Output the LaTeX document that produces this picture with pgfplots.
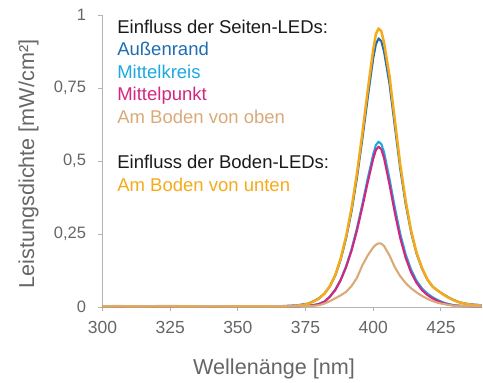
\documentclass[border=0pt]{standalone}
\usepackage{fontspec}
\setmainfont{Liberation Sans}
\usepackage{pgfplots}
\pgfplotsset{compat=1.18}
\definecolor{axisgray}{HTML}{B4B4B4}
\definecolor{labelgray}{HTML}{666666}
\definecolor{cAussen}{HTML}{1F6CB3}
\definecolor{cKreis}{HTML}{1BA9DF}
\definecolor{cPunkt}{HTML}{D4257F}
\definecolor{cOben}{HTML}{D9AA78}
\definecolor{cUnten}{HTML}{F5AA1A}
\definecolor{textdark}{HTML}{1A1A1A}
\newcommand{\legfont}{\fontsize{18.5bp}{22.5bp}\selectfont}
\begin{document}
\begin{tikzpicture}
\begin{axis}[
  width=379bp, height=292bp, scale only axis,
  xmin=300, xmax=440, ymin=0, ymax=1,
  axis x line=bottom, axis y line=left,
  axis line style={-, draw=axisgray, line width=0.9bp},
  xtick={300,325,350,375,400,425}, ytick={0,0.25,0.5,0.75,1},
  tick align=outside, major tick length=4bp,
  tick style={draw=axisgray, line width=0.9bp},
  /pgf/number format/use comma,
  /pgf/number format/1000 sep={},
  /pgf/number format/assume math mode=true,
  x tick label style={font=\fontsize{17.5bp}{20bp}\selectfont, text=labelgray, yshift=-7bp},
  y tick label style={font=\fontsize{16.5bp}{20bp}\selectfont, text=labelgray, xshift=-9bp},
  xlabel={Wellenänge [nm]},
  ylabel={Leistungsdichte [mW/cm²]},
  label style={font=\fontsize{21.6bp}{24bp}\selectfont, text=labelgray},
  x label style={at={(axis description cs:0.4526,-0.212)}, anchor=center},
  y label style={at={(axis description cs:-0.195,0.49)}, anchor=center},
  clip=false,
  every axis plot/.append style={line width=2.1bp, line join=round},
]
\coordinate (O) at (rel axis cs:0,0);
% Aussenrand
\addplot[cAussen] coordinates {
(300,0.002)(310,0.002)(330,0.003)(350,0.002)(366,0.003)(370,0.005)(372,0.006)(374,0.009)(376,0.012)(378,0.02)(380,0.03)(382,0.046)(384,0.071)(386,0.108)(388,0.163)(390,0.236)(392,0.328)(394,0.443)(396,0.576)(398,0.718)(400,0.852)(401,0.9)(402,0.92)(403,0.91)(404,0.875)(406,0.765)(408,0.618)(410,0.472)(412,0.352)(414,0.256)(416,0.183)(418,0.132)(420,0.094)(422,0.069)(424,0.055)(426,0.043)(428,0.032)(430,0.023)(432,0.016)(434,0.012)(436,0.009)(438,0.008)(440,0.006)};
% Mittelkreis
\addplot[cKreis] coordinates {
(300,0.002)(350,0.002)(370,0.003)(374,0.004)(378,0.007)(380,0.011)(382,0.019)(384,0.036)(386,0.06)(388,0.094)(390,0.14)(392,0.198)(394,0.27)(396,0.353)(398,0.441)(400,0.523)(401,0.555)(402,0.566)(403,0.558)(404,0.53)(406,0.44)(408,0.34)(410,0.25)(412,0.18)(414,0.128)(416,0.09)(418,0.064)(420,0.046)(422,0.033)(424,0.023)(426,0.015)(428,0.01)(430,0.006)(434,0.003)(440,0.002)};
% Mittelpunkt
\addplot[cPunkt] coordinates {
(300,0.002)(350,0.002)(370,0.002)(374,0.003)(378,0.006)(380,0.01)(382,0.018)(384,0.035)(386,0.058)(388,0.092)(390,0.137)(392,0.193)(394,0.262)(396,0.343)(398,0.428)(400,0.508)(401,0.538)(402,0.549)(403,0.54)(404,0.51)(406,0.42)(408,0.322)(410,0.235)(412,0.168)(414,0.118)(416,0.083)(418,0.058)(420,0.041)(422,0.029)(424,0.02)(426,0.013)(428,0.008)(430,0.005)(434,0.003)(440,0.002)};
% Am Boden von unten
\addplot[cUnten, line width=2.5bp] coordinates {
(300,0.002)(350,0.002)(366,0.002)(370,0.003)(374,0.007)(376,0.011)(378,0.019)(380,0.029)(382,0.046)(384,0.072)(386,0.11)(388,0.167)(390,0.243)(392,0.339)(394,0.458)(396,0.596)(398,0.744)(400,0.882)(401,0.935)(402,0.954)(403,0.944)(404,0.906)(406,0.792)(408,0.639)(410,0.487)(412,0.363)(414,0.262)(416,0.186)(418,0.134)(420,0.095)(422,0.069)(424,0.055)(426,0.042)(428,0.031)(430,0.022)(432,0.015)(434,0.011)(436,0.008)(438,0.006)(440,0.005)};
% Am Boden von oben
\addplot[cOben] coordinates {
(300,0.002)(306,0.004)(310,0.002)(326,0.004)(330,0.002)(342,0.003)(350,0.002)(360,0.002)(366,0.003)(372,0.003)(378,0.004)(380,0.006)(382,0.012)(384,0.02)(386,0.03)(388,0.04)(390,0.052)(392,0.072)(394,0.1)(396,0.143)(398,0.177)(400,0.204)(401,0.213)(402,0.218)(403,0.217)(404,0.209)(406,0.177)(408,0.136)(410,0.105)(412,0.082)(414,0.064)(416,0.05)(418,0.038)(420,0.028)(422,0.02)(424,0.014)(426,0.01)(428,0.007)(430,0.004)(434,0.003)(440,0.002)};
% legend text
\node[anchor=base west, inner sep=0pt, font=\legfont, text=textdark] at (axis cs:305.4,0.938) {Einfluss der Seiten-LEDs:};
\node[anchor=base west, inner sep=0pt, font=\legfont, text=cAussen] at (axis cs:305.4,0.861) {Außenrand};
\node[anchor=base west, inner sep=0pt, font=\legfont, text=cKreis] at (axis cs:305.4,0.784) {Mittelkreis};
\node[anchor=base west, inner sep=0pt, font=\legfont, text=cPunkt] at (axis cs:305.4,0.707) {Mittelpunkt};
\node[anchor=base west, inner sep=0pt, font=\legfont, text=cOben] at (axis cs:305.4,0.630) {Am Boden von oben};
\node[anchor=base west, inner sep=0pt, font=\legfont, text=textdark] at (axis cs:305.4,0.474) {Einfluss der Boden-LEDs:};
\node[anchor=base west, inner sep=0pt, font=\legfont, text=cUnten] at (axis cs:305.4,0.397) {Am Boden von unten};
\end{axis}
\pgfresetboundingbox
\path[use as bounding box] ([shift={(-102.5bp,-76bp)}]O) rectangle ([shift={(380.5bp,307bp)}]O);
\end{tikzpicture}
\end{document}
